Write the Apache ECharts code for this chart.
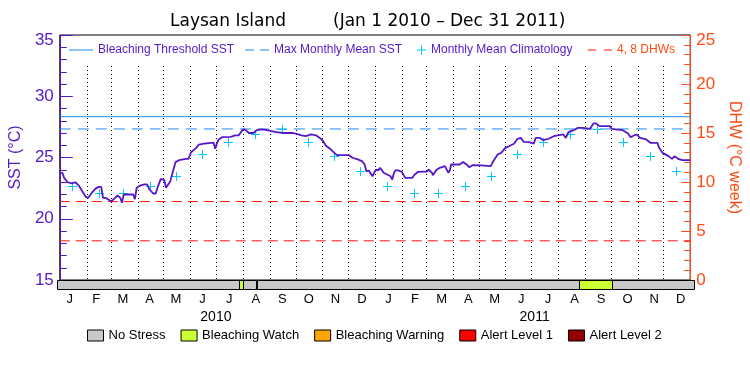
<!DOCTYPE html>
<html><head><meta charset="utf-8">
<script src="https://cdn.jsdelivr.net/npm/echarts@6/dist/echarts.min.js"></script>
<style>html,body{margin:0;padding:0;background:#fff}#c{width:750px;height:375px}</style>
</head><body><div id="c"></div>
<script>
// ---------- data ----------
const titleLeft = 'Laysan Island';
const titleRight = '(Jan 1 2010 – Dec 31 2011)';
const monthLetters = ['J','F','M','A','M','J','J','A','S','O','N','D'];
const years = ['2010','2011'];
// SST: day offset since 2010-01-01 and value (°C)
const sstDay = [0,3,5,9,14,18,22,26,30,33,37,41,45,48,50,53,56,60,64,67,70,72,74,76,81,85,87,89,93,98,
  101,104,108,111,114,117,121,123,125,128,131,134,138,146,149,152,158,161,167,169,178,180,182,184,188,198,
  203,207,209,212,215,219,224,228,234,240,245,251,259,270,274,280,285,291,297,301,305,308,314,318,321,335,
  339,345,350,353,355,358,360,362,364,366,369,371,373,375,379,383,385,387,389,393,396,400,408,411,415,421,
  425,427,431,432,436,440,446,448,450,452,453,463,467,471,474,478,488,499,502,507,511,516,520,526,530,534,
  537,543,549,551,556,560,566,572,574,583,586,589,595,600,606,608,614,618,621,625,637,639,644,652,658,661,
  665,668,672,679,684,692,694,698,705,709,712,716,721,730];
const sstValue = [23.75,23.75,23.34,22.98,22.88,22.98,22.71,22.25,21.79,21.71,22.12,22.44,22.6,22.6,21.71,21.71,21.57,21.43,21.71,21.9,21.71,21.3,21.98,22.06,21.98,21.98,21.6,22.53,22.71,22.8,
  22.8,22.39,22.06,22.06,22.71,23.26,23.15,22.53,22.39,23.07,23.88,24.62,24.78,24.89,24.89,25.43,25.79,26.06,26.14,26.22,26.22,25.71,26.17,26.47,26.66,26.69,
  26.8,26.8,26.96,27.29,27.25,27.0,27.0,27.23,27.29,27.23,27.15,27.07,27.0,27.0,26.93,26.8,26.74,26.88,26.8,26.6,26.33,25.98,25.65,25.38,25.19,25.19,
  24.98,24.84,24.7,24.43,23.88,23.92,23.97,23.47,23.75,24.0,23.97,24.16,24.16,23.75,23.61,23.47,23.2,23.75,23.97,23.92,23.83,23.34,23.34,23.61,23.83,23.85,
  23.85,24.02,23.75,23.56,23.97,24.16,24.29,24.25,23.75,24.0,24.43,24.43,24.64,24.43,24.21,24.37,24.35,24.29,24.7,25.24,25.38,25.79,25.92,26.12,26.53,26.6,
  26.28,26.25,26.14,26.6,26.6,26.41,26.53,26.74,26.88,26.88,26.6,27.07,27.23,27.42,27.42,27.34,27.34,27.78,27.78,27.56,27.56,27.34,27.3,27.23,26.96,26.66,
  26.8,26.88,26.6,26.47,26.2,26.2,25.79,25.38,25.11,24.89,25.11,24.89,24.78,24.78];
// Monthly mean climatology (Jan..Dec), same both years
const climatology = [22.66,22.12,22.12,22.66,23.47,25.30,26.28,26.88,27.34,26.28,25.11,23.88];
const bleachingThreshold = 28.33;
const maxMonthlyMean = 27.33;
const dhwLevels = [4, 8];
// Stress level bar
const stressNames = ['No Stress','Bleaching Watch','Bleaching Warning','Alert Level 1','Alert Level 2'];
const stressStart = ['2010-01-01','2010-07-29','2010-08-03','2010-08-17','2010-08-19','2011-08-22','2011-09-29'];
const stressEnd   = ['2010-07-29','2010-08-03','2010-08-17','2010-08-19','2011-08-22','2011-09-29','2012-01-01'];
const stressLevel = [0,1,0,1,0,1,0];

// ---------- style ----------
const FONT = 'Liberation Sans';
const TITLE_FONT = 'DejaVu Sans';
const PURPLE = '#5518c8';
const ORANGE = '#ff4a14';
const BLUE = '#1e8cf0';
const CYAN = '#00c8ff';
const RED = '#ff1010';
const stressColors = ['#c8c8c8','#ccff33','#ffa500','#ff0000','#960000'];

const DAY = 86400000;
const T0 = Date.UTC(2010,0,1), T1 = Date.UTC(2012,0,1);
const gridTopValue = 32.5;

const sstData = sstDay.map((d,i)=>[T0 + d*DAY, sstValue[i]]);
const climData = [];
years.forEach(y => climatology.forEach((v,m) => climData.push([Date.UTC(+y, m, 15), v])));
const monthStarts = [];
years.forEach((y,yi) => monthLetters.forEach((_,m) => {
  if (yi === 0 && m === 0) return;
  monthStarts.push([Date.UTC(+y, m, 1)]);
}));
const dhwData = [];
dhwLevels.forEach((v,i) => { if (i) dhwData.push([T1,'-']); dhwData.push([T0,v],[T1,v]); });

const solidIcon = 'path://M0,0h24v1h-24z';
const dashIcon = 'path://M0,0h9v1h-9zM15,0h9v1h-9z';
const redDashIcon = 'path://M0,0h8v1h-8zM16,0h8v1h-8z';
const plusIcon = 'path://M4,0h1v9h-1zM0,4h9v1h-9z';

const stressSeries = stressNames.map((name, lvl) => ({
  name, type: 'custom', xAxisIndex: 1, yAxisIndex: 2,
  itemStyle: { color: stressColors[lvl] },
  encode: { x: [0,1] },
  data: stressStart.map((s,i)=>[Date.parse(s), Date.parse(stressEnd[i]), stressLevel[i]]).filter(r=>r[2]===lvl),
  renderItem: (params, api) => {
    const a = api.coord([api.value(0), 1]);
    const b = api.coord([api.value(1), 0]);
    const x0 = Math.round(a[0]) + 0.5, x1 = Math.round(b[0]) + 0.5;
    const y0 = Math.round(a[1]) + 0.5, y1 = Math.round(b[1]) - 0.5;
    return { type: 'rect', shape: { x: x0, y: y0, width: x1 - x0, height: y1 - y0 },
      style: { fill: stressColors[lvl], stroke: '#000', lineWidth: 1 } };
  }
}));

const chart = echarts.init(document.getElementById('c'), null, { renderer: 'canvas' });
chart.setOption({
  animation: false,
  backgroundColor: '#fff',
  textStyle: { fontFamily: FONT },
  title: [
    { text: titleLeft, left: 170, top: 13, padding: 0, textStyle: { fontFamily: TITLE_FONT, fontSize: 17, fontWeight: 'normal', color: '#000' } },
    { text: titleRight, left: 333, top: 13, padding: 0, textStyle: { fontFamily: TITLE_FONT, fontSize: 17, fontWeight: 'normal', color: '#000' } }
  ],
  legend: [
    { data: [{ name: 'Bleaching Threshold SST', icon: solidIcon }, { name: 'Max Monthly Mean SST', icon: dashIcon }],
      left: 69, top: 44, padding: 0, itemWidth: 24, itemHeight: 1, itemGap: 11, selectedMode: false,
      itemStyle: { borderWidth: 0 }, textStyle: { color: PURPLE, fontSize: 12, fontFamily: FONT } },
    { data: [{ name: 'Monthly Mean Climatology', icon: plusIcon }],
      left: 417, top: 44, padding: 0, itemWidth: 9, itemHeight: 9, selectedMode: false,
      itemStyle: { borderWidth: 0 }, textStyle: { color: PURPLE, fontSize: 12, fontFamily: FONT } },
    { data: [{ name: '4, 8 DHWs', icon: redDashIcon }],
      left: 588, top: 44, padding: 0, itemWidth: 24, itemHeight: 1, selectedMode: false,
      itemStyle: { borderWidth: 0 }, textStyle: { color: ORANGE, fontSize: 12, fontFamily: FONT } },
    { data: stressNames.map(n => ({ name: n, icon: 'rect' })),
      left: 87, top: 329, padding: 0, itemWidth: 16, itemHeight: 11, itemGap: 15, selectedMode: false,
      itemStyle: { borderColor: '#000', borderWidth: 1 }, textStyle: { color: '#000', fontSize: 13, fontFamily: FONT } }
  ],
  grid: [
    { left: 56.5, right: 56, top: 35, bottom: 95, show: true, borderColor: '#000', borderWidth: 1, backgroundColor: 'transparent' },
    { left: 56.5, right: 56, top: 280, height: 10 }
  ],
  xAxis: [
    { type: 'time', gridIndex: 0, min: T0, max: T1, show: false },
    { type: 'time', gridIndex: 1, min: T0, max: T1, show: false },
    { type: 'category', gridIndex: 1, position: 'bottom', boundaryGap: true,
      data: years.flatMap(() => monthLetters),
      axisLine: { show: false }, axisTick: { show: false }, splitLine: { show: false },
      axisLabel: { interval: 0, color: '#000', fontSize: 13, margin: 3, fontFamily: FONT } },
    { type: 'category', gridIndex: 1, position: 'bottom', offset: 17, boundaryGap: true, data: years,
      axisLine: { show: false }, axisTick: { show: false }, splitLine: { show: false },
      axisLabel: { interval: 0, color: '#000', fontSize: 14, margin: 3, fontFamily: FONT } }
  ],
  yAxis: [
    { type: 'value', gridIndex: 0, min: 15, max: 35, interval: 5, position: 'left',
      axisLine: { show: true, lineStyle: { color: PURPLE, width: 1 } },
      axisTick: { show: true, inside: true, length: 13, lineStyle: { color: PURPLE } },
      minorTick: { show: true, splitNumber: 5, length: 7, lineStyle: { color: PURPLE } },
      splitLine: { show: false },
      axisLabel: { color: PURPLE, fontSize: 17, margin: 6, fontFamily: FONT,
        formatter: v => v === 35 ? '{t|' + v + '}' : '' + v,
        rich: { t: { color: PURPLE, fontSize: 17, fontFamily: FONT, padding: [10,0,0,0] } } },
      name: 'SST (°C)', nameLocation: 'middle', nameGap: 33, nameRotate: 90,
      nameTextStyle: { color: PURPLE, fontSize: 16, fontFamily: FONT } },
    { type: 'value', gridIndex: 0, min: 0, max: 25, interval: 5, position: 'right',
      axisLine: { show: true, lineStyle: { color: ORANGE, width: 1 } },
      axisTick: { show: true, inside: true, length: 9, lineStyle: { color: ORANGE } },
      minorTick: { show: true, splitNumber: 5, length: 6, lineStyle: { color: ORANGE } },
      splitLine: { show: false },
      axisLabel: { color: ORANGE, fontSize: 17, margin: 6, fontFamily: FONT,
        formatter: v => v === 25 ? '{t|' + v + '}' : '' + v,
        rich: { t: { color: ORANGE, fontSize: 17, fontFamily: FONT, padding: [10,0,0,0] } } },
      name: 'DHW (°C week)', nameLocation: 'middle', nameGap: 27, nameRotate: -90,
      nameTextStyle: { color: ORANGE, fontSize: 16, fontFamily: FONT } },
    { type: 'value', gridIndex: 1, min: 0, max: 1, show: false }
  ],
  series: [
    { name: 'monthGrid', type: 'custom', xAxisIndex: 0, yAxisIndex: 0, data: monthStarts, silent: true,
      encode: { x: 0 },
      renderItem: (params, api) => {
        const a = api.coord([api.value(0), gridTopValue]);
        const b = api.coord([api.value(0), 15]);
        const x = Math.round(a[0]) + 0.5;
        return { type: 'line', shape: { x1: x, y1: Math.round(a[1]), x2: x, y2: Math.round(b[1]) },
          style: { stroke: '#000', lineWidth: 1, lineDash: [1,3] } };
      } },
    { name: 'Bleaching Threshold SST', type: 'line', xAxisIndex: 0, yAxisIndex: 0, symbol: 'none', silent: true,
      data: [[T0, bleachingThreshold], [T1, bleachingThreshold]],
      lineStyle: { color: BLUE, width: 1 }, itemStyle: { color: BLUE } },
    { name: 'Max Monthly Mean SST', type: 'line', xAxisIndex: 0, yAxisIndex: 0, symbol: 'none', silent: true,
      data: [[T0, maxMonthlyMean], [T1, maxMonthlyMean]],
      lineStyle: { color: BLUE, width: 1, type: [11,7] }, itemStyle: { color: BLUE } },
    { name: '4, 8 DHWs', type: 'line', xAxisIndex: 0, yAxisIndex: 1, symbol: 'none', silent: true,
      data: dhwData, lineStyle: { color: RED, width: 1, type: [10,6] }, itemStyle: { color: RED } },
    { name: 'Monthly Mean Climatology', type: 'custom', xAxisIndex: 0, yAxisIndex: 0, silent: true,
      data: climData, itemStyle: { color: CYAN }, z: 4, encode: { x: 0, y: 1 },
      renderItem: (params, api) => {
        const p = api.coord([api.value(0), api.value(1)]);
        const cx = Math.round(p[0]) + 0.5, cy = Math.round(p[1]) + 0.5;
        const st = { stroke: CYAN, lineWidth: 1 };
        return { type: 'group', children: [
          { type: 'line', shape: { x1: cx - 4.5, y1: cy, x2: cx + 4.5, y2: cy }, style: st },
          { type: 'line', shape: { x1: cx, y1: cy - 4.5, x2: cx, y2: cy + 4.5 }, style: st }
        ] };
      } },
    { name: 'SST', type: 'line', xAxisIndex: 0, yAxisIndex: 0, symbol: 'none', silent: true,
      data: sstData, lineStyle: { color: PURPLE, width: 1.8 }, itemStyle: { color: PURPLE }, z: 5 },
    ...stressSeries
  ]
});
</script></body></html>
